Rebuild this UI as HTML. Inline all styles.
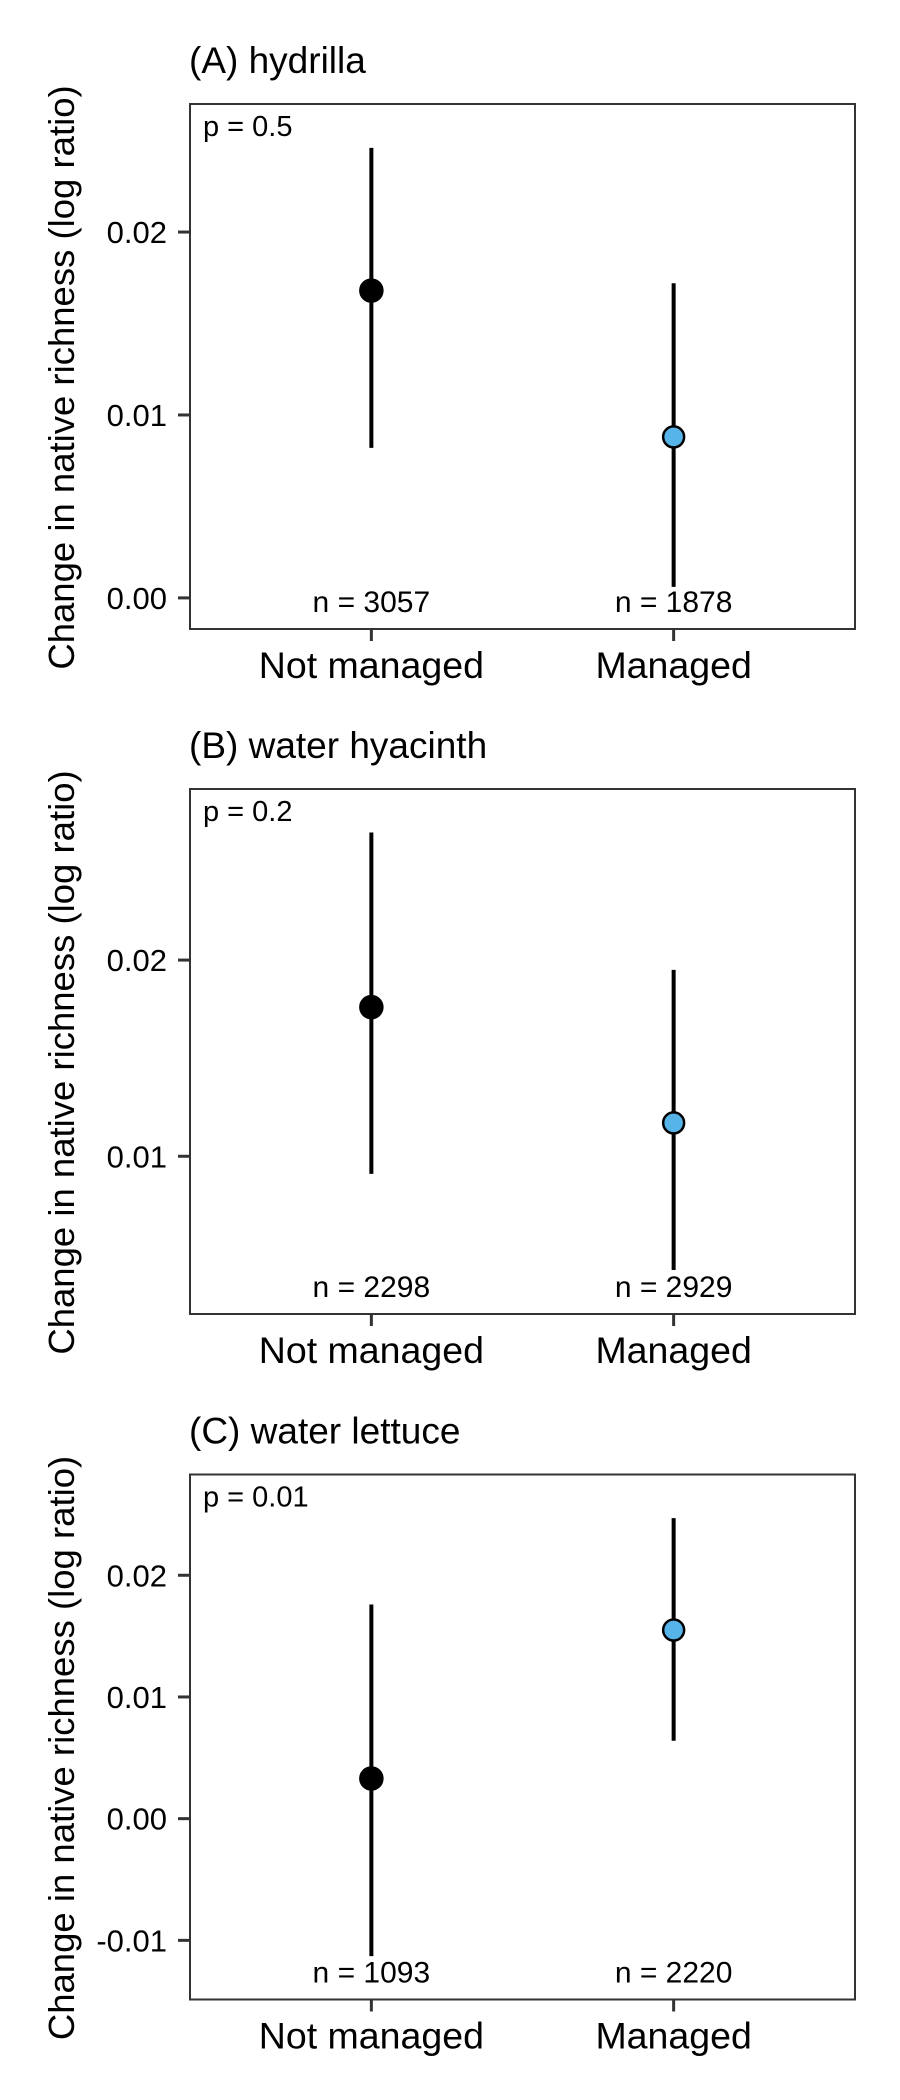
<!DOCTYPE html>
<html><head><meta charset="utf-8"><style>
html,body{margin:0;padding:0;background:#fff;}
svg{display:block;font-family:"Liberation Sans",Arial,sans-serif;}
</style></head><body>
<svg id="chart" width="900" height="2100" viewBox="0 0 900 2100" xmlns="http://www.w3.org/2000/svg"></svg>
<script>
const panelTitles = ["(A) hydrilla", "(B) water hyacinth", "(C) water lettuce"];
const categories = ["Not managed", "Managed"];
const pLabels = ["p = 0.5", "p = 0.2", "p = 0.01"];
const nLabels = [["n = 3057", "n = 1878"], ["n = 2298", "n = 2929"], ["n = 1093", "n = 2220"]];
const estA = [0.0168, 0.0088];
const lowA = [0.0082, 0.0006];
const highA = [0.0246, 0.0172];
const estB = [0.0176, 0.0117];
const lowB = [0.0091, 0.0042];
const highB = [0.0265, 0.0195];
const estC = [0.0033, 0.0155];
const lowC = [-0.0113, 0.0064];
const highC = [0.0176, 0.0247];
const ticksA = [0, 0.01, 0.02];
const ticksB = [0.01, 0.02];
const ticksC = [-0.01, 0, 0.01, 0.02];
const tickLabelsA = ["0.00", "0.01", "0.02"];
const tickLabelsB = ["0.01", "0.02"];
const tickLabelsC = ["-0.01", "0.00", "0.01", "0.02"];
const domainA = [-0.0017, 0.0270];
const domainB = [0.00196, 0.02872];
const domainC = [-0.01486, 0.02828];

const svg = document.getElementById('chart');
const NS = 'http://www.w3.org/2000/svg';
function mk(tag, attrs, parent){const e=document.createElementNS(NS,tag);for(const k in attrs)e.setAttribute(k,attrs[k]);parent.appendChild(e);return e;}

const panels = [
 {est:estA,low:lowA,high:highA,ticks:ticksA,tl:tickLabelsA,dom:domainA,top:104},
 {est:estB,low:lowB,high:highB,ticks:ticksB,tl:tickLabelsB,dom:domainB,top:789},
 {est:estC,low:lowC,high:highC,ticks:ticksC,tl:tickLabelsC,dom:domainC,top:1474.5}
];
const L=190, R=855, H=525;
function xScale(i){ const w=(R-L)/2.2; return L + w*(0.6+i); }
panels.forEach((p,pi)=>{
  const g = mk('g',{},svg);
  
  
  const T=p.top, B=p.top+H;
  const y = v => B - (v-p.dom[0])/(p.dom[1]-p.dom[0])*H;
  const title = mk('text',{x:L-1,y:T-31,'font-size':37,fill:'#000'},g);
  title.textContent = panelTitles[pi];
  
  
  const yt = mk('text',{transform:`translate(74,${T+H/2+11}) rotate(-90)`,'text-anchor':'middle','font-size':36.5,fill:'#000'},g);
  yt.textContent = 'Change in native richness (log ratio)';
  
  
  const box = mk('rect',{x:L,y:T,width:R-L,height:H,fill:'none',stroke:'#333','stroke-width':2},g);
  
  
  p.ticks.forEach((t,ti)=>{
    const tk = mk('line',{x1:L-12,x2:L,y1:y(t),y2:y(t),stroke:'#333','stroke-width':3},g);
    
    
    const tx = mk('text',{x:L-23,y:y(t)+11,'text-anchor':'end','font-size':31,fill:'#000'},g);
    tx.textContent = p.tl[ti];
    
    
  });
  const pl = mk('text',{x:L+13,y:T+32,'font-size':29,fill:'#000'},g);
  pl.textContent = pLabels[pi];
  
  
  categories.forEach((c,ci)=>{
    const cx = xScale(ci);
    const tk = mk('line',{x1:cx,x2:cx,y1:B,y2:B+12,stroke:'#333','stroke-width':3},g);
    
    
    const xl = mk('text',{x:cx,y:B+49,'text-anchor':'middle','font-size':37.5,fill:'#000'},g);
    xl.textContent = c;
    
    
    const nl = mk('text',{x:cx,y:B-17,'text-anchor':'middle','font-size':30,fill:'#000'},g);
    nl.textContent = nLabels[pi][ci];
    
    
    const eb = mk('line',{x1:cx,x2:cx,y1:y(p.low[ci]),y2:y(p.high[ci]),stroke:'#000','stroke-width':4},g);
    
    
    const pt = mk('circle',{cx:cx,cy:y(p.est[ci]),r:ci===0?11:10.5,fill:ci===0?'#000':'#56B4E9',stroke:'#000','stroke-width':2.5},g);
    
    
  });
});
</script>
</body></html>
